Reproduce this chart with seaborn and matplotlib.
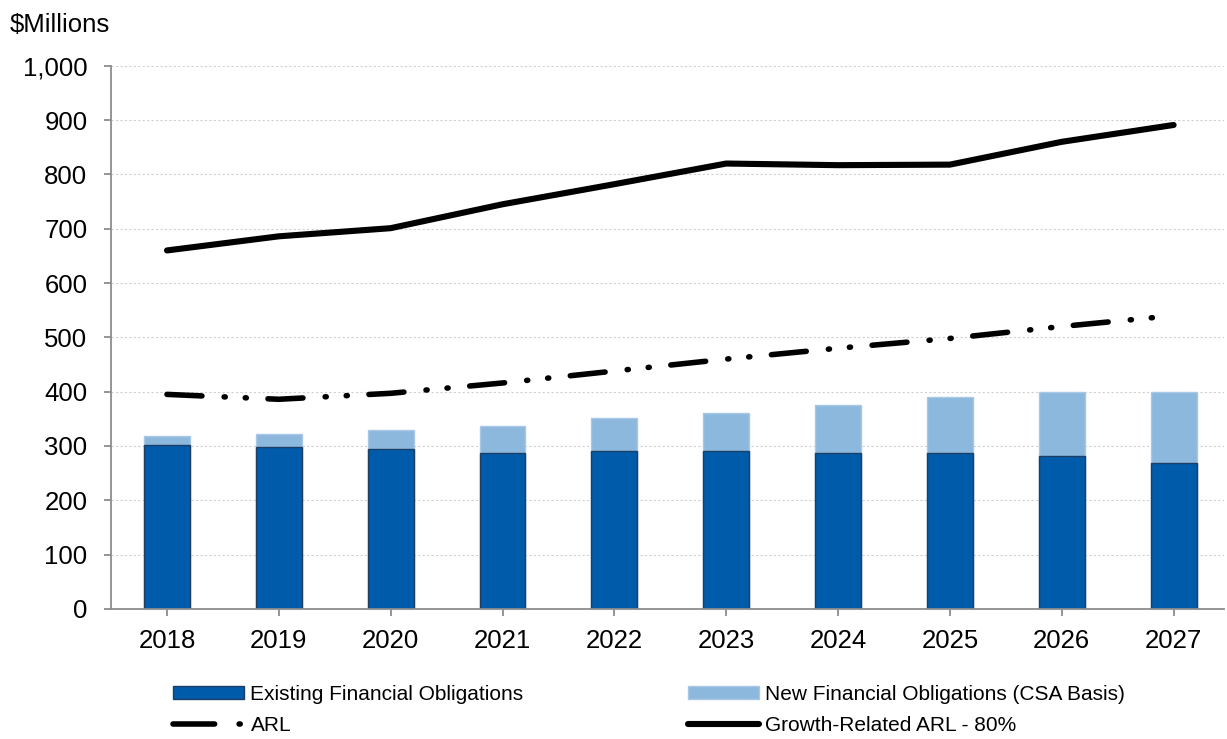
import numpy as np
import pandas as pd
import matplotlib
matplotlib.use("Agg")
import matplotlib.pyplot as plt
import matplotlib.ticker as mticker
from matplotlib.patches import Patch
from matplotlib.lines import Line2D
import seaborn as sns

# ==========================================
# Data ($ millions)
# ==========================================
years = ["2018", "2019", "2020", "2021", "2022", "2023", "2024", "2025", "2026", "2027"]
existing = [302, 298, 295, 288, 290, 290, 288, 288, 282, 269]
new_total = [319, 322, 330, 336, 352, 360, 376, 390, 400, 400]  # existing + new (top of stack)
arl = [395, 386, 397, 416, 438, 460, 480, 498, 520, 540]
growth_arl = [660, 686, 701, 745, 782, 820, 817, 818, 860, 891]

dark_blue = "#005BAA"
light_blue = "#8DB8DD"

df = pd.DataFrame({
    "year": years,
    "existing": existing,
    "total": new_total,
    "arl": arl,
    "growth": growth_arl,
})
df["pos"] = np.arange(len(df))

# ==========================================
# Style
# ==========================================
sns.set_theme(style="white")
plt.rcParams["font.family"] = ["Liberation Sans", "DejaVu Sans"]
plt.rcParams["text.color"] = "black"

fig = plt.figure(figsize=(12.27, 7.39), dpi=100)
ax = fig.add_axes([0.0905, 0.176, 0.907, 0.735])

# stacked bars: full stack in light blue, existing on top in dark blue
sns.barplot(data=df, x="year", y="total", color=light_blue, saturation=1,
            width=0.41, edgecolor="#a9c8e6", linewidth=1, ax=ax)
sns.barplot(data=df, x="year", y="existing", color=dark_blue, saturation=1,
            width=0.41, edgecolor="#1d3f66", linewidth=1, ax=ax)

# lines
sns.lineplot(data=df, x="pos", y="growth", color="black", linewidth=4.4,
             solid_capstyle="round", ax=ax)
sns.lineplot(data=df, x="pos", y="arl", color="black", linewidth=4.0,
             dashes=False, ax=ax)
arl_line = ax.lines[-1]
arl_line.set_dashes((6.3, 4.0, 0.2, 3.6, 0.2, 3.9))
arl_line.set_dash_capstyle("round")

# ==========================================
# Axes formatting
# ==========================================
ax.set_xlim(-0.5, 9.45)
ax.set_ylim(0, 1000)
ax.set_yticks(np.arange(0, 1001, 100))
ax.yaxis.set_major_formatter(mticker.FuncFormatter(lambda v, p: f"{v:,.0f}"))
ax.set_xlabel("")
ax.set_ylabel("")

ax.grid(axis="y", color="#d0d0d0", linestyle=(0, (2, 2)), linewidth=0.8)
ax.set_axisbelow(True)

for side in ["top", "right"]:
    ax.spines[side].set_visible(False)
for side in ["left", "bottom"]:
    ax.spines[side].set_color("#8c8c8c")
    ax.spines[side].set_linewidth(1.3)

ax.tick_params(axis="both", which="major", labelsize=18.5, colors="#8c8c8c",
               labelcolor="black", length=5, width=1.3, direction="out",
               left=True, bottom=True)
ax.tick_params(axis="y", pad=12)
ax.tick_params(axis="x", pad=9.5)

fig.text(10 / 1227, 1 - 25 / 739, r"\$Millions", fontsize=18.5, va="center",
         ha="left", color="black")

# ==========================================
# Legend
# ==========================================
handles = [
    Patch(facecolor=dark_blue, edgecolor="#1d3f66"),
    Line2D([0], [0], color="black", linewidth=4.0, dashes=(7.5, 4.4, 0.2, 100),
           dash_capstyle="round"),
    Patch(facecolor=light_blue, edgecolor="#a9c8e6"),
    Line2D([0], [0], color="black", linewidth=4.4, solid_capstyle="round"),
]
labels = [
    "Existing Financial Obligations",
    "ARL",
    "New Financial Obligations (CSA Basis)",
    "Growth-Related ARL - 80%",
]
fig.legend(handles, labels, ncol=2, loc="lower left",
           bbox_to_anchor=(163 / 1227, -0.009), frameon=False, fontsize=15,
           handlelength=3.4, handleheight=0.6, handletextpad=0.3,
           columnspacing=7.9, labelspacing=0.6, borderpad=0,
           labelcolor="black")

plt.savefig("out.png", dpi=100)
plt.close()
